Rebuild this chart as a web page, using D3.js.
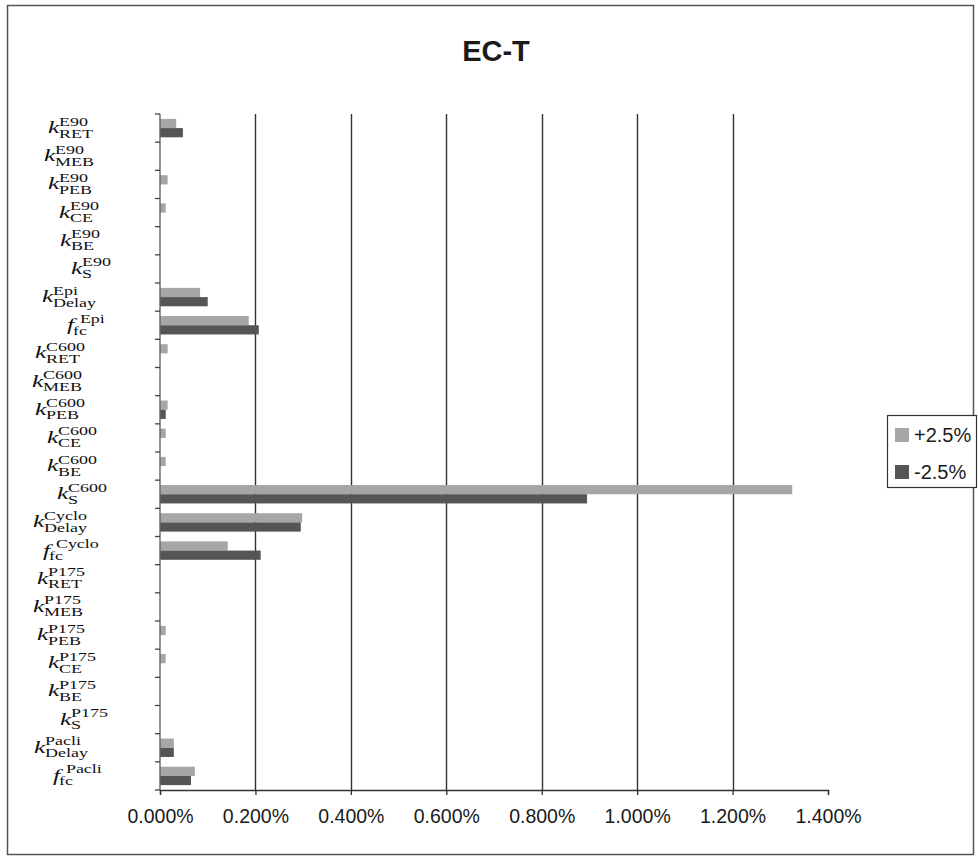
<!DOCTYPE html>
<html>
<head>
<meta charset="utf-8">
<script src="https://cdn.jsdelivr.net/npm/d3@7/dist/d3.min.js"></script>
<style>
  html, body { margin: 0; padding: 0; background: #fff; }
  svg { display: block; }
</style>
</head>
<body>
<svg id="chart" width="978" height="860"></svg>
<script>
// Parameter labels: italic symbol, superscript (model) and subscript (parameter)
const symbols = ["k","k","k","k","k","k","k","f","k","k","k","k","k","k","k","f","k","k","k","k","k","k","k","f"];
const supers  = ["E90","E90","E90","E90","E90","E90","Epi","Epi",
                 "C600","C600","C600","C600","C600","C600","Cyclo","Cyclo",
                 "P175","P175","P175","P175","P175","P175","Pacli","Pacli"];
const subs    = ["RET","MEB","PEB","CE","BE","S","Delay","fc",
                 "RET","MEB","PEB","CE","BE","S","Delay","fc",
                 "RET","MEB","PEB","CE","BE","S","Delay","fc"];

// Sensitivity of EC-T (in %) for a +2.5% and a -2.5% change of each parameter
const plusValues  = [0.034, 0, 0.016, 0.012, 0, 0, 0.084, 0.186,
                     0.016, 0, 0.016, 0.012, 0.012, 1.325, 0.298, 0.142,
                     0, 0, 0.012, 0.012, 0, 0, 0.029, 0.073];
const minusValues = [0.048, 0, 0, 0, 0, 0, 0.100, 0.207,
                     0, 0, 0.012, 0, 0, 0.895, 0.295, 0.211,
                     0, 0, 0, 0, 0, 0, 0.029, 0.065];

const seriesNames = ["+2.5%", "-2.5%"];
const xTickValues = [0, 0.2, 0.4, 0.6, 0.8, 1.0, 1.2, 1.4];

// Layout: left edge of each parameter label
const labelLeft = [48, 44, 48, 59, 60, 71, 42, 67, 35, 32, 35, 47, 47, 57, 33, 43, 37, 33, 37, 48, 48, 60, 34, 53];

const colors = ["#a6a6a8", "#555557"];
const svg = d3.select("#chart");

const plot = { left: 160, right: 828, top: 114, bottom: 790 };

// Outer frame
svg.append("rect")
  .attr("x", 7.5).attr("y", 5.5).attr("width", 966).attr("height", 849)
  .attr("fill", "none").attr("stroke", "#555").attr("stroke-width", 1.5);

// Title
svg.append("text")
  .attr("x", 496).attr("y", 61)
  .attr("text-anchor", "middle")
  .attr("font-family", "Liberation Sans, Arial, sans-serif")
  .attr("font-weight", "bold").attr("font-size", 29)
  .attr("fill", "#1a1a1a")
  .text("EC-T");

const x = d3.scaleLinear().domain([0, 1.4]).range([plot.left, plot.right]);
const idx = d3.range(symbols.length);
const y = d3.scaleBand().domain(idx).range([plot.top, plot.bottom]).padding(0);
const ySub = d3.scaleBand().domain([0, 1]).range([0, y.bandwidth()]).paddingInner(0).paddingOuter(0.53);

// Vertical gridlines
svg.append("g")
  .selectAll("line")
  .data(xTickValues.filter(v => v > 0 && v < 1.4))
  .join("line")
  .attr("x1", d => Math.round(x(d)) + 0.5).attr("x2", d => Math.round(x(d)) + 0.5)
  .attr("y1", plot.top).attr("y2", plot.bottom)
  .attr("stroke", "#333").attr("stroke-width", 1.4);

// Bars
const series = [plusValues, minusValues];
series.forEach((vals, s) => {
  svg.append("g")
    .selectAll("rect")
    .data(idx)
    .join("rect")
    .attr("x", x(0))
    .attr("y", i => y(i) + ySub(s))
    .attr("width", i => x(vals[i]) - x(0))
    .attr("height", ySub.bandwidth())
    .attr("fill", colors[s]);
});

// X axis
const xAxis = d3.axisBottom(x)
  .tickValues(xTickValues)
  .tickSize(5)
  .tickPadding(14)
  .tickFormat(d => d.toFixed(3) + "%");
const gx = svg.append("g")
  .attr("transform", `translate(0,${plot.bottom})`)
  .call(xAxis);
gx.select(".domain").attr("stroke", "#333").attr("stroke-width", 1.3);
gx.selectAll(".tick line").attr("stroke", "#333").attr("stroke-width", 1.3);
gx.selectAll(".tick text")
  .attr("font-family", "Liberation Sans, Arial, sans-serif")
  .attr("font-size", 19.5)
  .attr("fill", "#1a1a1a");

// Y axis (category boundaries)
const boundaries = d3.range(symbols.length + 1).map(i => plot.top + i * y.step());
svg.append("line")
  .attr("x1", plot.left).attr("x2", plot.left)
  .attr("y1", plot.top).attr("y2", plot.bottom)
  .attr("stroke", "#666").attr("stroke-width", 1.4);
svg.append("g")
  .selectAll("line")
  .data(boundaries)
  .join("line")
  .attr("x1", plot.left - 5).attr("x2", plot.left)
  .attr("y1", d => d).attr("y2", d => d)
  .attr("stroke", "#444").attr("stroke-width", 1.3);

// Parameter labels (math style)
const serif = "Liberation Serif, Times New Roman, serif";
const labels = svg.append("g")
  .selectAll("g")
  .data(idx)
  .join("g")
  .attr("transform", i => `translate(${labelLeft[i]},${y(i) + y.bandwidth() / 2}) scale(1.5,1)`);
labels.append("text")
  .attr("x", 0).attr("y", 5)
  .attr("font-family", serif).attr("font-style", "italic")
  .attr("font-size", 17).attr("fill", "#111")
  .text(i => symbols[i]);
labels.append("text")
  .attr("x", i => symbols[i] === "f" ? 8.6 : 7.3)
  .attr("y", -2.5)
  .attr("font-family", serif).attr("font-size", 12).attr("fill", "#111")
  .text(i => supers[i]);
labels.append("text")
  .attr("x", i => symbols[i] === "f" ? 4 : 7.3)
  .attr("y", 9.5)
  .attr("font-family", serif).attr("font-size", 12).attr("fill", "#111")
  .text(i => subs[i]);

// Legend
const legend = svg.append("g");
legend.append("rect")
  .attr("x", 887.5).attr("y", 415.5).attr("width", 89).attr("height", 72)
  .attr("fill", "#fff").attr("stroke", "#333").attr("stroke-width", 1.2);
seriesNames.forEach((name, s) => {
  legend.append("rect")
    .attr("x", 895).attr("y", 428 + s * 37)
    .attr("width", 14).attr("height", 14)
    .attr("fill", colors[s]);
  legend.append("text")
    .attr("x", 914).attr("y", 442 + s * 37)
    .attr("font-family", "Liberation Sans, Arial, sans-serif")
    .attr("font-size", 20).attr("fill", "#1a1a1a")
    .text(name);
});
</script>
</body>
</html>
